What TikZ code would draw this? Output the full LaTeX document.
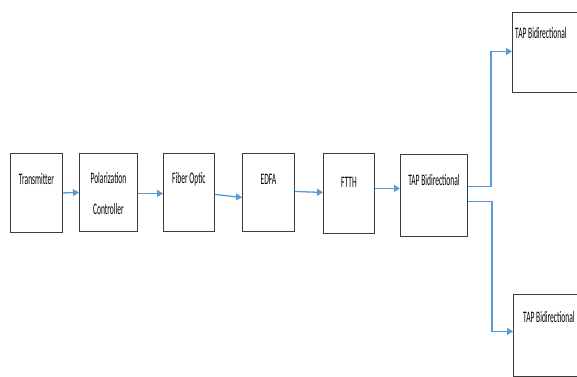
\documentclass[tikz,border=0pt]{standalone}
\usepackage{fontspec}
\newfontfamily\nar[FakeStretch=0.47]{Carlito}
\usetikzlibrary{arrows.meta}
\definecolor{arrblue}{RGB}{91,155,213}
\definecolor{boxgray}{RGB}{60,60,60}
\tikzset{
  blk/.style={draw=boxgray, line width=0.9pt, fill=white, anchor=north west, inner sep=0pt},
  lbl/.style={font=\nar\fontsize{16}{16}\selectfont, text=black, inner sep=0pt},
  arr/.style={draw=arrblue, line width=1.3pt, -{Triangle[length=6pt,width=7pt]}},
}
\begin{document}
\begin{tikzpicture}[x=1pt,y=-1pt]
\useasboundingbox (0,0) rectangle (577,376);
\fill[white] (0,0) rectangle (577,376);
% boxes
\node[blk, minimum width=52pt, minimum height=79pt] (tx) at (10,153) {};
\node[blk, minimum width=58pt, minimum height=78pt] (pc) at (79,153) {};
\node[blk, minimum width=51pt, minimum height=78pt] (fo) at (163,153) {};
\node[blk, minimum width=52pt, minimum height=78pt] (ed) at (242,153) {};
\node[blk, minimum width=51pt, minimum height=80pt] (ft) at (323,153) {};
\node[blk, minimum width=67pt, minimum height=82pt] (tap) at (400,154) {};
\node[blk, minimum width=80pt, minimum height=80pt] (up) at (512,12) {};
\node[blk, minimum width=80pt, minimum height=82pt] (lo) at (513,294) {};
% labels
\node[lbl] (txl) at ([yshift=-26pt]tx.north) {Transmitter};
\node[lbl] (pcl1) at ([yshift=-25pt]pc.north) {Polarization};
\node[lbl] (pcl2) at ([yshift=-56pt]pc.north) {Controller};
\node[lbl] (fol) at ([yshift=-26pt]fo.north) {Fiber Optic};
\node[lbl] (edl) at ([yshift=-26pt]ed.north) {EDFA};
\node[lbl] (ftl) at ([yshift=-29pt]ft.north) {FTTH};
\node[lbl] (tapl) at ([yshift=-26pt]tap.north) {TAP Bidirectional};
\node[lbl, anchor=west] (upl) at ([xshift=3pt,yshift=-21pt]up.north west) {TAP Bidirectional};
\node[lbl, anchor=west] (lol) at ([xshift=10pt,yshift=-23pt]lo.north west) {TAP Bidirectional};
% connectors
\draw[arr] (tx.east) -- (pc.west);
\draw[arr] ([yshift=-1pt]pc.east) -- ([yshift=-1pt]fo.west);
\draw[arr] ([yshift=-2pt]fo.east) -- ([yshift=-5pt]ed.west);
\draw[arr] ([yshift=1pt]ed.east) -- ([yshift=1pt]ft.west);
\draw[arr] ([yshift=5pt]ft.east) -- ([yshift=7pt]tap.west);
\draw[arr] ([yshift=9pt]tap.east) -- ++(23,0) |- ([yshift=1pt]up.west);
\draw[arr] ([yshift=-6pt]tap.east) -- ++(24,0) |- ([yshift=4pt]lo.west);
\end{tikzpicture}
\end{document}
